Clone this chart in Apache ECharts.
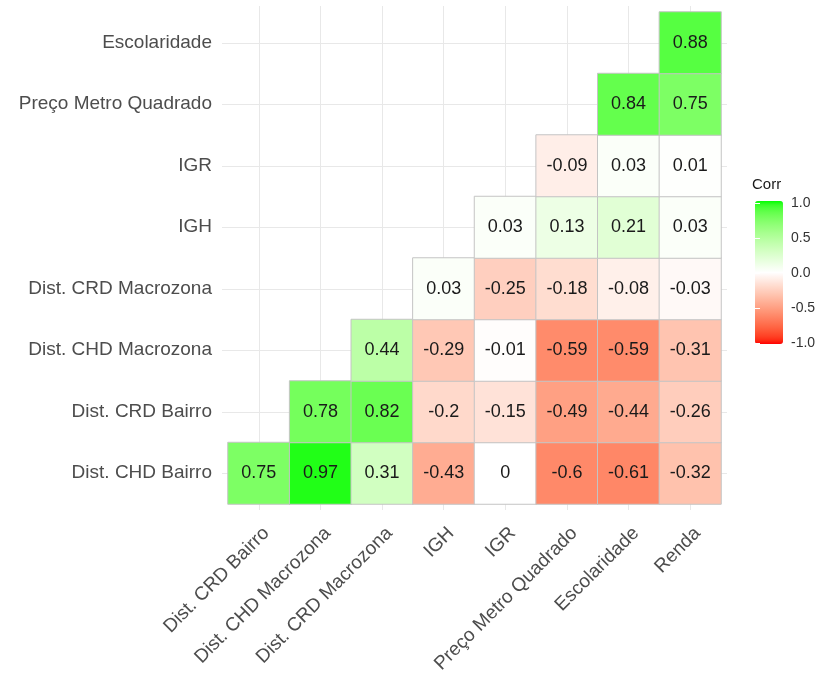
<!DOCTYPE html>
<html>
<head>
<meta charset="utf-8">
<script src="https://cdn.jsdelivr.net/npm/echarts@6/dist/echarts.min.js"></script>
<style>
html,body{margin:0;padding:0;background:#fff;}
#chart{width:820px;height:673px;}
</style>
</head>
<body>
<div id="chart"></div>
<script>
// ---- data ----
var xCategories = ['Dist. CRD Bairro', 'Dist. CHD Macrozona', 'Dist. CRD Macrozona', 'IGH', 'IGR', 'Preço Metro Quadrado', 'Escolaridade', 'Renda'];
var yCategories = ['Dist. CHD Bairro', 'Dist. CRD Bairro', 'Dist. CHD Macrozona', 'Dist. CRD Macrozona', 'IGH', 'IGR', 'Preço Metro Quadrado', 'Escolaridade'];
// each row: correlations for the row variable against xCategories, starting at column = row index
var rowDistCHDBairro     = [0.75, 0.97, 0.31, -0.43, 0, -0.6, -0.61, -0.32];
var rowDistCRDBairro     = [0.78, 0.82, -0.2, -0.15, -0.49, -0.44, -0.26];
var rowDistCHDMacrozona  = [0.44, -0.29, -0.01, -0.59, -0.59, -0.31];
var rowDistCRDMacrozona  = [0.03, -0.25, -0.18, -0.08, -0.03];
var rowIGH               = [0.03, 0.13, 0.21, 0.03];
var rowIGR               = [-0.09, 0.03, 0.01];
var rowPreco             = [0.84, 0.75];
var rowEscolaridade      = [0.88];
var legendTicks = [-1.0, -0.5, 0.0, 0.5, 1.0];

var rows = [rowDistCHDBairro, rowDistCRDBairro, rowDistCHDMacrozona, rowDistCRDMacrozona, rowIGH, rowIGR, rowPreco, rowEscolaridade];
var heatData = [];
rows.forEach(function (row, yi) {
  row.forEach(function (v, k) { heatData.push([yi + k, yi, v]); });
});

// ---- Lab interpolation (like ggplot2 scale_fill_gradient2) ----
function toLin(c){c/=255;return c<=0.04045?c/12.92:Math.pow((c+0.055)/1.055,2.4);}
function toSrgb(c){c=c<=0.0031308?12.92*c:1.055*Math.pow(c,1/2.4)-0.055;return Math.max(0,Math.min(255,Math.round(c*255)));}
var Xn=0.95047,Yn=1,Zn=1.08883;
function f(t){return t>0.008856?Math.cbrt(t):(7.787*t+16/116);}
function fi(t){return t*t*t>0.008856?t*t*t:(t-16/116)/7.787;}
function rgb2lab(rgb){
  var R=toLin(rgb[0]),G=toLin(rgb[1]),B=toLin(rgb[2]);
  var X=0.4124564*R+0.3575761*G+0.1804375*B,Y=0.2126729*R+0.7151522*G+0.0721750*B,Z=0.0193339*R+0.1191920*G+0.9503041*B;
  var fx=f(X/Xn),fy=f(Y/Yn),fz=f(Z/Zn);
  return [116*fy-16,500*(fx-fy),200*(fy-fz)];
}
function lab2rgb(lab){
  var fy=(lab[0]+16)/116,fx=fy+lab[1]/500,fz=fy-lab[2]/200;
  var X=Xn*fi(fx),Y=Yn*fi(fy),Z=Zn*fi(fz);
  var R=3.2404542*X-1.5371385*Y-0.4985314*Z,G=-0.9692660*X+1.8760108*Y+0.0415560*Z,B=0.0556434*X-0.2040259*Y+1.0572252*Z;
  return 'rgb('+toSrgb(R)+','+toSrgb(G)+','+toSrgb(B)+')';
}
var labLow=rgb2lab([255,0,0]),labMid=rgb2lab([255,255,255]),labHigh=rgb2lab([0,255,0]);
function colorAt(v){
  var a=v<0?labLow:labHigh,t=Math.abs(v);
  return lab2rgb([labMid[0]+(a[0]-labMid[0])*t,labMid[1]+(a[1]-labMid[1])*t,labMid[2]+(a[2]-labMid[2])*t]);
}
var stops=[];
for(var i=0;i<=40;i++){stops.push(colorAt(-1+i*0.05));}

// ---- layout ----
var FONT='"Liberation Sans", Arial, sans-serif';
var cellL=228,cellT=12,cellW=493,cellH=492;
var bw=cellW/8,bh=cellH/8;
var gridColor='#e8e8e8';

var chart=echarts.init(document.getElementById('chart'),null,{renderer:'canvas'});
var option={
  backgroundColor:'#ffffff',
  animation:false,
  textStyle:{fontFamily:FONT},
  title:{text:'Corr',left:752,top:177,padding:0,textStyle:{fontSize:15,fontWeight:'normal',color:'#1a1a1a',fontFamily:FONT}},
  grid:[
    {left:cellL,top:cellT,width:cellW,height:cellH,containLabel:false,outerBoundsMode:'none'},
    {left:cellL+bw/2,top:cellT-6,width:bw*7,height:cellH+12,containLabel:false,outerBoundsMode:'none'},
    {left:cellL-6,top:cellT+bh/2,width:cellW+12,height:bh*7,containLabel:false,outerBoundsMode:'none'},
    {left:755,top:203,width:28,height:140,containLabel:false,outerBoundsMode:'none'}
  ],
  xAxis:[
    {type:'category',gridIndex:0,data:xCategories,axisLine:{show:false},axisTick:{show:false},splitLine:{show:false},
     axisLabel:{rotate:45,interval:0,fontSize:19,color:'#4d4d4d',fontFamily:FONT,margin:19,align:'right',verticalAlign:'top',padding:[1,0,0,0]}},
    {type:'value',gridIndex:1,min:0,max:7,interval:1,axisLine:{show:false},axisTick:{show:false},axisLabel:{show:false},
     splitLine:{show:true,lineStyle:{color:gridColor,width:1}}},
    {type:'value',gridIndex:2,min:0,max:1,show:false,splitLine:{show:false}},
    {type:'value',gridIndex:3,min:0,max:1,show:false,splitLine:{show:false}}
  ],
  yAxis:[
    {type:'category',gridIndex:0,data:yCategories,axisLine:{show:false},axisTick:{show:false},splitLine:{show:false},
     axisLabel:{interval:0,fontSize:19,color:'#4d4d4d',fontFamily:FONT,margin:16}},
    {type:'value',gridIndex:1,min:0,max:1,show:false,splitLine:{show:false}},
    {type:'value',gridIndex:2,min:0,max:7,interval:1,axisLine:{show:false},axisTick:{show:false},axisLabel:{show:false},
     splitLine:{show:true,lineStyle:{color:gridColor,width:1}}},
    {type:'value',gridIndex:3,min:-1,max:1,interval:0.5,position:'right',z:10,
     axisLine:{show:false},splitLine:{show:false},
     axisTick:{show:true,inside:true,length:5,lineStyle:{color:'#ffffff',width:1}},
     axisLabel:{show:true,margin:8,fontSize:14,color:'#333333',fontFamily:FONT,formatter:function(v){return legendTicks.indexOf(v)>=0?v.toFixed(1):'';}}},
    {type:'value',gridIndex:3,min:-1,max:1,interval:0.5,position:'left',z:10,
     axisLine:{show:false},splitLine:{show:false},axisLabel:{show:false},
     axisTick:{show:true,inside:true,length:5,lineStyle:{color:'#ffffff',width:1}}}
  ],
  visualMap:{
    type:'continuous',min:-1,max:1,dimension:2,seriesIndex:0,calculable:false,
    orient:'vertical',left:755,top:201,itemWidth:28,itemHeight:143,padding:0,
    text:['',''],showLabel:false,inRange:{color:stops}
  },
  series:[{
    type:'heatmap',xAxisIndex:0,yAxisIndex:0,data:heatData,
    itemStyle:{borderColor:'#c4c4c4',borderWidth:1},
    label:{show:true,fontSize:18,color:'#1a1a1a',fontFamily:FONT,formatter:function(p){return String(p.value[2]);}},
    emphasis:{disabled:true}
  }]
};
chart.setOption(option);
</script>
</body>
</html>
